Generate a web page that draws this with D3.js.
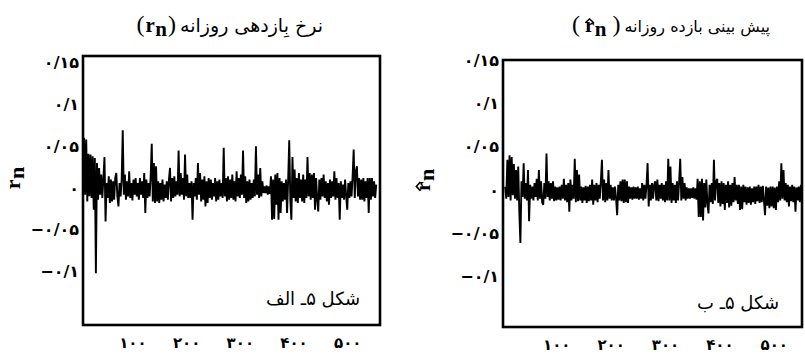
<!DOCTYPE html>
<html>
<head>
<meta charset="utf-8">
<script src="https://cdn.jsdelivr.net/npm/d3@7"></script>
<style>
  html, body { margin: 0; padding: 0; background: #fff; }
  svg { display: block; }
</style>
</head>
<body>
<svg id="chart" width="805" height="359"></svg>
<script>
// Daily return series r_n (one value per second trading day)
const rn = [
  0.010, -0.014, 0.060, -0.008, 0.058, -0.016, 0.041, -0.010, 0.040, -0.012,
  0.038, -0.026, 0.036, -0.102, 0.030, -0.014, 0.024, -0.008, 0.016, -0.012,
  0.012, 0.037, -0.040, 0.006, -0.012, 0.014, -0.018, 0.010, -0.016, 0.008,
  -0.014, 0.012, 0.018, -0.010, -0.022, 0.006, -0.010, 0.010, 0.069, -0.008,
  0.016, -0.014, 0.008, -0.010, 0.020, -0.012, 0.006, -0.015, 0.010, -0.008,
  0.012, -0.010, 0.006, -0.014, 0.012, -0.008, 0.008, -0.012, 0.018, -0.030,
  0.010, -0.012, 0.006, -0.010, 0.014, 0.053, -0.016, 0.030, -0.018, 0.026,
  -0.016, 0.008, -0.018, 0.006, -0.014, 0.010, -0.016, 0.004, -0.012, 0.008,
  -0.014, 0.010, 0.024, -0.016, 0.012, -0.012, 0.014, -0.010, 0.008, -0.008,
  0.045, -0.010, 0.018, -0.008, 0.012, -0.014, 0.040, -0.010, 0.016, -0.012,
  0.006, -0.012, 0.008, -0.038, 0.006, -0.010, 0.012, -0.014, 0.030, -0.008,
  0.018, -0.016, 0.010, -0.014, 0.014, -0.022, 0.008, -0.018, 0.012, -0.012,
  0.010, -0.014, 0.006, -0.010, 0.012, -0.016, 0.008, -0.014, 0.010, -0.010,
  0.006, -0.012, 0.048, -0.010, 0.012, -0.016, 0.014, -0.014, 0.010, -0.012,
  0.016, -0.014, 0.008, -0.016, 0.020, -0.010, 0.012, -0.012, 0.016, -0.008,
  0.045, -0.012, 0.014, -0.018, 0.008, -0.016, 0.010, -0.014, 0.006, -0.012,
  0.010, -0.010, 0.050, -0.008, 0.016, -0.012, 0.024, -0.010, 0.008, -0.006,
  0.002, -0.006, 0.003, -0.008, 0.002, -0.007, 0.014, -0.038, 0.010, -0.037,
  0.016, -0.020, 0.018, -0.038, 0.012, -0.030, 0.008, -0.016, 0.006, -0.014,
  0.010, -0.030, 0.010, 0.057, -0.014, -0.038, 0.037, -0.012, 0.022, -0.016,
  0.012, -0.018, 0.018, -0.012, 0.010, -0.016, 0.016, -0.018, 0.010, -0.012,
  0.037, -0.010, 0.018, -0.014, 0.016, -0.012, 0.018, -0.026, 0.012, -0.014,
  -0.028, 0.010, -0.014, 0.012, -0.010, 0.016, -0.012, 0.008, -0.016, 0.006,
  -0.020, 0.010, -0.012, 0.008, -0.010, 0.020, -0.014, 0.012, -0.012, 0.006,
  -0.038, 0.008, -0.012, 0.004, -0.014, 0.010, -0.010, -0.026, 0.006, -0.012,
  0.008, -0.010, 0.014, 0.046, -0.012, 0.020, 0.026, -0.010, 0.012, -0.014,
  0.010, -0.014, 0.012, -0.016, 0.008, -0.012, 0.012, -0.030, 0.012, -0.014,
  0.012, -0.010, 0.008, -0.012, 0.004
];

// Predicted daily return series r̂_n
const rnHat = [
  0.004, -0.010, 0.035, -0.008, 0.040, -0.012, 0.038, -0.006, 0.030, -0.010,
  0.023, -0.012, 0.027, -0.025, -0.061, 0.010, -0.008, 0.031, -0.010, 0.008,
  -0.012, 0.023, -0.036, 0.006, -0.010, 0.004, -0.012, 0.008, -0.008, 0.013,
  -0.012, 0.023, -0.010, 0.010, -0.014, -0.017, 0.008, -0.010, 0.042, -0.008,
  0.010, -0.012, 0.008, -0.010, 0.010, -0.013, 0.004, -0.012, 0.003, -0.011,
  0.004, -0.012, 0.006, -0.010, 0.013, -0.012, 0.006, -0.014, 0.008, -0.025,
  0.012, -0.012, 0.006, -0.010, 0.036, -0.014, 0.023, -0.013, 0.018, -0.012,
  0.004, -0.015, 0.003, -0.012, 0.005, -0.015, 0.004, -0.013, 0.006, -0.012,
  0.012, -0.017, 0.006, -0.012, 0.008, -0.014, 0.006, -0.010, 0.010, 0.035,
  -0.012, 0.012, -0.014, 0.008, -0.012, 0.023, -0.010, 0.006, -0.012, 0.003,
  -0.012, 0.004, -0.010, -0.029, 0.006, -0.012, 0.010, -0.013, 0.012, -0.015,
  0.012, -0.014, 0.010, -0.015, 0.004, -0.010, 0.003, -0.011, 0.004, -0.010,
  0.003, -0.010, 0.004, -0.011, 0.002, -0.010, 0.008, -0.012, 0.006, -0.010,
  0.006, 0.031, -0.019, 0.006, -0.012, 0.008, -0.010, 0.006, 0.010, -0.012,
  0.012, -0.013, 0.006, -0.010, 0.008, -0.012, 0.006, -0.014, 0.010, -0.012,
  0.036, -0.012, 0.027, -0.015, 0.008, -0.012, 0.006, -0.015, 0.010, -0.012,
  0.010, 0.036, -0.012, 0.015, -0.010, 0.008, -0.012, 0.003, -0.010, 0.002,
  -0.010, 0.002, -0.009, 0.003, -0.010, 0.002, -0.011, 0.013, -0.031, 0.010,
  -0.031, 0.013, -0.035, 0.008, -0.020, 0.012, -0.016, -0.027, 0.006, -0.014,
  0.008, -0.016, 0.035, -0.012, 0.010, 0.013, -0.015, 0.008, -0.019, 0.010,
  -0.016, 0.008, -0.023, 0.006, -0.015, 0.010, -0.020, 0.006, -0.018, 0.008,
  -0.014, 0.015, -0.012, 0.006, -0.016, 0.006, -0.023, 0.004, -0.022, 0.006,
  -0.014, 0.004, -0.017, 0.003, -0.015, 0.004, -0.017, 0.002, -0.014, 0.004,
  -0.016, 0.004, -0.013, 0.006, -0.015, 0.004, -0.014, 0.005, -0.012, -0.029,
  0.004, -0.018, 0.003, -0.021, 0.004, -0.019, 0.004, -0.021, 0.003, -0.023,
  0.004, -0.014, 0.010, -0.012, 0.031, -0.010, 0.023, -0.012, 0.008, -0.014,
  0.006, -0.019, 0.004, -0.013, 0.006, -0.014, 0.004, -0.025, 0.003, -0.012,
  0.004, -0.014, 0.006, -0.012, 0.002
];

// Day index of each value (every second day)
const dayIndex = rn.map((_, i) => 6 + i * 2);

// Axis ticks and their Persian labels
const yTicks = [-0.1, -0.05, 0, 0.05, 0.1, 0.15];
const yTickLabels = ["−۰/۱", "−۰/۰۵", "۰", "۰/۰۵", "۰/۱", "۰/۱۵"];
const xTicks = [100, 200, 300, 400, 500];
const xTickLabels = ["۱۰۰", "۲۰۰", "۳۰۰", "۴۰۰", "۵۰۰"];

// Titles and panel tags
const titleA = "نرخ بِازدهی روزانه";
const titleB = "پیش بینی بازده روزانه";
const tagA = "شکل ۵ـ الف";
const tagB = "شکل ۵ـ ب";

const FA = "'DejaVu Sans', sans-serif";
const SERIF = "'Liberation Serif', 'DejaVu Serif', serif";

const svg = d3.select("#chart");

const panels = [
  { key: "a", values: rn, hat: false, title: titleA, tag: tagA,
    frame: { x0: 83, x1: 380, y0: 56, y1: 325 }, xDomain: [8, 561], yDomain: [-0.164, 0.158],
    titleRight: 323, titleY: 32, titleSize: 19, tagX: 266, tagY: 305, yLabX: 20, yLabY: 178 },
  { key: "b", values: rnHat, hat: true, title: titleB, tag: tagB,
    frame: { x0: 503, x1: 802, y0: 60, y1: 327 }, xDomain: [2, 552], yDomain: [-0.158, 0.15],
    titleRight: 770, titleY: 32, titleSize: 16, tagX: 697, tagY: 309, yLabX: 430, yLabY: 180 }
];

// Draws "r" (optionally with a hat) followed by a lowered "n"; returns total width
function drawRn(g, hat, size) {
  const r = g.append("text").attr("x", 0).attr("y", 0)
    .attr("font-family", SERIF).attr("font-weight", "bold").attr("font-size", size)
    .text("r");
  const rw = r.node().getComputedTextLength();
  const n = g.append("text").attr("x", rw + 0.5).attr("y", size * 0.18)
    .attr("font-family", SERIF).attr("font-weight", "bold").attr("font-size", size)
    .text("n");
  const nw = n.node().getComputedTextLength();
  if (hat) {
    const hy = -size * 0.62, hw = size * 0.2;
    g.append("path")
      .attr("d", `M${rw / 2 - hw},${hy + hw * 0.9} L${rw / 2},${hy} L${rw / 2 + hw},${hy + hw * 0.9}`)
      .attr("fill", "none").attr("stroke", "#000").attr("stroke-width", 1.6);
  }
  return rw + 0.5 + nw;
}

panels.forEach(p => {
  const g = svg.append("g").attr("class", "panel-" + p.key);
  const x = d3.scaleLinear().domain(p.xDomain).range([p.frame.x0, p.frame.x1]);
  const y = d3.scaleLinear().domain(p.yDomain).range([p.frame.y1, p.frame.y0]);

  // clip for the series
  svg.append("clipPath").attr("id", "clip-" + p.key)
    .append("rect")
    .attr("x", x.range()[0]).attr("y", y.range()[1])
    .attr("width", x.range()[1] - x.range()[0])
    .attr("height", y.range()[0] - y.range()[1]);

  const line = d3.line()
    .x((d, i) => x(dayIndex[i]))
    .y(d => y(d));

  g.append("path")
    .datum(p.values)
    .attr("clip-path", `url(#clip-${p.key})`)
    .attr("fill", "none")
    .attr("stroke", "#000")
    .attr("stroke-width", 1.9)
    .attr("stroke-linejoin", "miter")
    .attr("d", line);

  // frame
  g.append("rect")
    .attr("x", x.range()[0]).attr("y", y.range()[1])
    .attr("width", x.range()[1] - x.range()[0])
    .attr("height", y.range()[0] - y.range()[1])
    .attr("fill", "none").attr("stroke", "#000").attr("stroke-width", 2.6);

  // y axis
  const yAxis = d3.axisLeft(y).tickValues(yTicks)
    .tickFormat((d, i) => yTickLabels[i]).tickSize(0).tickPadding(4);
  const ya = g.append("g").attr("transform", `translate(${x.range()[0]},0)`).call(yAxis);
  ya.select(".domain").remove();
  ya.selectAll("text").attr("font-family", FA).attr("font-size", 16)
    .attr("font-weight", "bold").attr("fill", "#000");

  // x axis
  const xAxis = d3.axisBottom(x).tickValues(xTicks)
    .tickFormat((d, i) => xTickLabels[i]).tickSize(0).tickPadding(12);
  const xa = g.append("g").attr("transform", `translate(0,${y.range()[0]})`).call(xAxis);
  xa.select(".domain").remove();
  xa.selectAll("text").attr("font-family", FA).attr("font-size", 15)
    .attr("font-weight", "bold").attr("fill", "#000");

  // title: Persian text with the symbol in parentheses on its left
  const tg = g.append("g");
  const fa = tg.append("text").attr("y", p.titleY)
    .attr("font-family", FA).attr("font-size", p.titleSize).text(p.title);
  const faW = fa.node().getComputedTextLength();
  fa.attr("x", p.titleRight - faW);
  const sym = tg.append("g");
  const open = sym.append("text").attr("x", 0).attr("y", 0)
    .attr("font-family", SERIF).attr("font-size", 24).text("(");
  const ow = open.node().getComputedTextLength() + (p.hat ? 5 : 1);
  const rg = sym.append("g").attr("transform", `translate(${ow},0)`);
  const rw = drawRn(rg, p.hat, 21);
  const cx = ow + rw + (p.hat ? 6 : 1);
  const close = sym.append("text").attr("x", cx).attr("y", 0)
    .attr("font-family", SERIF).attr("font-size", 24).text(")");
  const symW = cx + close.node().getComputedTextLength();
  sym.attr("transform", `translate(${p.titleRight - faW - 4 - symW},${p.titleY})`);

  // rotated axis symbol
  const yl = g.append("g");
  const inner = yl.append("g");
  const w = drawRn(inner, p.hat, 22);
  inner.attr("transform", `translate(${-w / 2},0)`);
  yl.attr("transform", `translate(${p.yLabX},${p.yLabY}) rotate(-90)`);

  // panel tag
  g.append("text").attr("x", p.tagX).attr("y", p.tagY)
    .attr("font-family", FA).attr("font-size", 18).text(p.tag);
});
</script>
</body>
</html>
